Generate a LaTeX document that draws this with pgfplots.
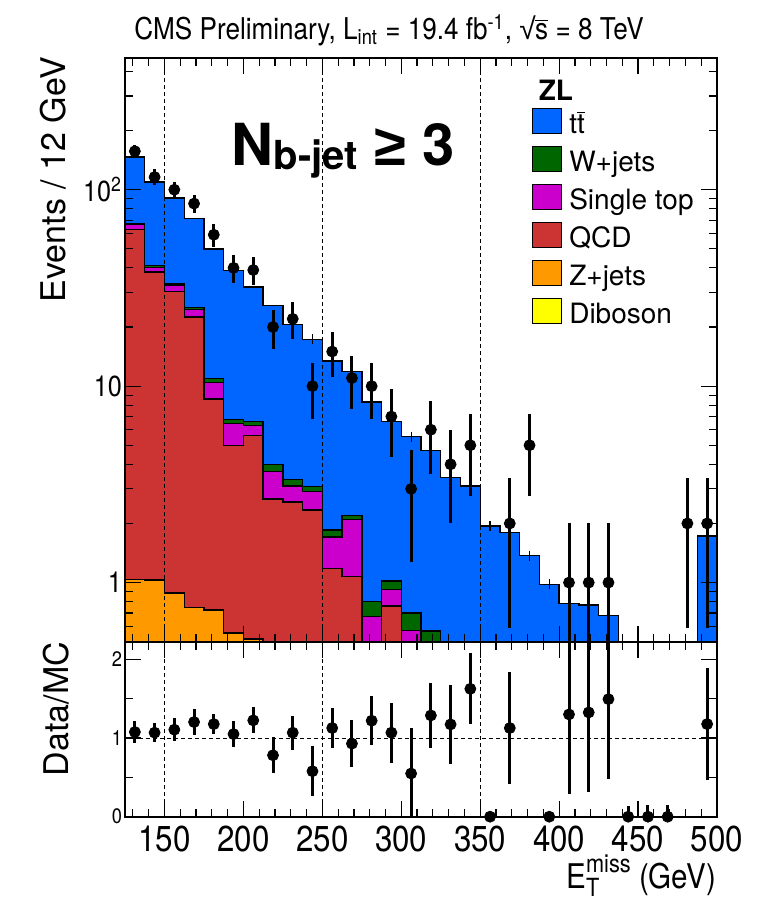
\documentclass[border=0pt]{standalone}
\usepackage{fontspec}
\setmainfont{TeX Gyre Heros}
\newfontfamily\narrow[FakeStretch=0.87]{TeX Gyre Heros}
\newfontfamily\libsans{Liberation Sans}
\usepackage{pgfplots}
\pgfplotsset{compat=1.18}
\definecolor{cTT}{RGB}{0,102,255}
\definecolor{cW}{RGB}{0,102,0}
\definecolor{cST}{RGB}{204,0,204}
\definecolor{cQCD}{RGB}{204,51,51}
\definecolor{cZ}{RGB}{255,153,0}
\definecolor{cDB}{RGB}{255,255,0}
\newcommand\xtickfont{\narrow\fontsize{18}{18}\selectfont}
\newcommand\ytickfont{\narrow\fontsize{14.5}{14.5}\selectfont}
\newcommand\rtickfont{\narrow\fontsize{10.5}{10.5}\selectfont}
\newcommand\legfont{\fontsize{14}{14}\selectfont}
\pgfplotsset{
  cmsaxis/.style={
    scale only axis, width=296pt, xmin=125, xmax=500,
    axis on top, tick align=inside,
    axis line style={line width=1pt},
    tick style={black, line width=0.6pt},
    major tick length=8pt, minor tick length=4pt,
    xtick={150,200,...,500}, minor xtick={130,140,...,490},
    /pgf/number format/assume math mode=true,
  },
  hist/.style={const plot mark left, draw=black, line width=0.7pt},
  refline/.style={forget plot, black, line width=0.5pt, dash pattern=on 2pt off 1.5pt},
}
\begin{document}
\begin{tikzpicture}
\path[use as bounding box] (0pt,0pt) rectangle (378pt,450pt);
% ---------------- main panel ----------------
\begin{axis}[cmsaxis,
  at={(62.5pt,129.15pt)}, anchor=south west, height=292pt,
  ymode=log, ymin=0.5, ymax=470,
  xticklabels={},
  ytick={1,10,100}, yticklabels={1,10,10\textsuperscript{2}},
  minor ytick={0.5,0.6,0.7,0.8,0.9,2,3,4,5,6,7,8,9,20,30,40,50,60,70,80,90,200,300,400},
  yticklabel style={font=\ytickfont, xshift=2pt},
  legend style={at={(0.687,0.9139)}, anchor=north west, draw=none, fill=none,
    inner sep=0pt, row sep=6pt, font=\legfont,
    nodes={inner sep=0pt, text height=12.5pt, text depth=0pt}},
  legend cell align=left,
  legend image code/.code={\draw[#1, line width=0.5pt] (0pt,-6.25pt) rectangle (14.5pt,6.25pt); \path (18pt,0pt);},
]
% ttbar (total)
\addplot[hist, fill=cTT] coordinates {
 (125,0.3) (125,146.6) (137.5,109.5) (150,90.7) (162.5,71.3) (175,50.0) (187.5,38.7)
 (200,32.0) (212.5,25.8) (225,20.6) (237.5,17.3) (250,13.4) (262.5,11.9) (275,8.3)
 (287.5,6.6) (300,5.54) (312.5,4.71) (325,3.43) (337.5,3.10) (350,1.94) (362.5,1.80)
 (375,1.37) (387.5,0.98) (400,0.78) (412.5,0.77) (425,0.68) (437.5,0.3) (450,0.3)
 (462.5,0.3) (475,0.3) (487.5,1.73) (500,1.73) (500,0.3)} -- cycle;
\addlegendentry{t$\overline{\mbox{t}}$}
% W+jets
\addplot[hist, fill=cW] coordinates {
 (125,0.3) (125,67.2) (137.5,41.1) (150,33.1) (162.5,25.1) (175,10.9) (187.5,6.77)
 (200,6.6) (212.5,4.0) (225,3.34) (237.5,3.08) (250,1.85) (262.5,2.2) (275,0.80)
 (287.5,1.02) (300,0.70) (312.5,0.566) (325,0.3) (500,0.3)} -- cycle;
\addlegendentry{W+jets}
% single top
\addplot[hist, fill=cST] coordinates {
 (125,0.3) (125,66.3) (137.5,40.1) (150,32.5) (162.5,24.5) (175,10.4) (187.5,6.44)
 (200,6.3) (212.5,3.67) (225,3.1) (237.5,2.9) (250,1.71) (262.5,2.1) (275,0.67)
 (287.5,0.925) (300,0.57) (312.5,0.3) (500,0.3)} -- cycle;
\addlegendentry{Single top}
% QCD
\addplot[hist, fill=cQCD] coordinates {
 (125,0.3) (125,62.7) (137.5,38.2) (150,30.3) (162.5,22.5) (175,8.6) (187.5,5.0)
 (200,5.6) (212.5,2.66) (225,2.57) (237.5,2.34) (250,1.18) (262.5,1.07) (275,0.3)
 (287.5,0.76) (300,0.3) (500,0.3)} -- cycle;
\addlegendentry{QCD}
% Z+jets
\addplot[hist, fill=cZ] coordinates {
 (125,0.3) (125,1.04) (137.5,1.03) (150,0.886) (162.5,0.746) (175,0.724) (187.5,0.553)
 (200,0.515) (212.5,0.3) (500,0.3)} -- cycle;
\addlegendentry{Z+jets}
% Diboson
\addplot[hist, fill=cDB] coordinates {
 (125,0.3) (125,0.32) (500,0.32) (500,0.3)} -- cycle;
\addlegendentry{Diboson}
% reference lines
\addplot[refline] coordinates {(150,0.5) (150,470)};
\addplot[refline] coordinates {(250,0.5) (250,470)};
\addplot[refline] coordinates {(350,0.5) (350,470)};
% MC stat uncertainty ticks (short vertical marks on the stack top)
\addplot[forget plot, only marks, mark=|, mark size=2.5pt, mark options={black, line width=0.6pt}] coordinates {
 (243.75,17.3) (256.25,13.4) (268.75,11.9) (281.25,8.3) (293.75,6.6) (306.25,5.54)
 (318.75,4.71) (331.25,3.43) (343.75,3.10) (356.25,1.94) (368.75,1.80) (381.25,1.37)
 (393.75,0.98) (406.25,0.78) (418.75,0.77) (431.25,0.68)};
% data
\addplot[forget plot, only marks, mark=*, mark size=2.75pt, black,
  error bars/.cd, y dir=both, y explicit, error mark=none,
  error bar style={draw=black, solid, line width=1.5pt}] coordinates {
 (131.25,157) +- (0,12.53) (143.75,116) +- (0,10.77) (156.25,100) +- (0,10)
 (168.75,85) +- (0,9.22) (181.25,59) +- (0,7.68) (193.75,40) +- (0,6.32)
 (206.25,39) +- (0,6.24) (218.75,20) +- (0,4.47) (231.25,22) +- (0,4.69)
 (243.75,10) +- (0,3.16) (256.25,15) +- (0,3.87) (268.75,11) +- (0,3.32)
 (281.25,10) +- (0,3.16) (293.75,7) +- (0,2.65) (306.25,3) +- (0,1.73)
 (318.75,6) +- (0,2.45) (331.25,4) +- (0,2) (343.75,5) +- (0,2.24)
 (368.75,2) +- (0,1.41) (381.25,5) +- (0,2.24)
 (406.25,1) += (0,1) -= (0,0.999) (418.75,1) += (0,1) -= (0,0.999)
 (431.25,1) += (0,1) -= (0,0.999)
 (481.25,2) +- (0,1.41) (493.75,2) +- (0,1.41)};
\node[anchor=west, font=\bfseries\fontsize{14}{14}\selectfont] at (rel axis cs:0.687,0.9447) {ZL};
\node[anchor=base west, inner sep=0pt] at (rel axis cs:0.18,0.816)
  {\bfseries\fontsize{29}{29}\selectfont N\raisebox{-2pt}{\fontsize{20}{20}\selectfont b-jet} {\libsans\bfseries ≥} 3};
\end{axis}
% ---------------- ratio panel ----------------
\begin{axis}[cmsaxis,
  at={(62.5pt,41.65pt)}, anchor=south west, height=87.5pt,
  ymin=0, ymax=2.224,
  xticklabels={150,200,250,300,350,400,450,500},
  xticklabel style={font=\xtickfont, yshift=-1pt},
  ytick={0,1,2}, yticklabels={0,1,2}, minor ytick={0.5,1.5},
  yticklabel style={font=\rtickfont, xshift=2pt},
]
\addplot[refline] coordinates {(150,0) (150,2.224)};
\addplot[refline] coordinates {(250,0) (250,2.224)};
\addplot[refline] coordinates {(350,0) (350,2.224)};
\addplot[refline] coordinates {(125,1) (500,1)};
\addplot[forget plot, only marks, mark=*, mark size=2.75pt, black,
  error bars/.cd, y dir=both, y explicit, error mark=none,
  error bar style={draw=black, solid, line width=1.5pt}] coordinates {
 (131.25,1.076) +- (0,0.14) (143.75,1.068) +- (0,0.12) (156.25,1.106) +- (0,0.15)
 (168.75,1.203) +- (0,0.165) (181.25,1.177) +- (0,0.13) (193.75,1.05) +- (0,0.165)
 (206.25,1.224) +- (0,0.165) (218.75,0.781) +- (0,0.23) (231.25,1.068) +- (0,0.215)
 (243.75,0.578) +- (0,0.32) (256.25,1.127) +- (0,0.26) (268.75,0.929) +- (0,0.30)
 (281.25,1.22) +- (0,0.315) (293.75,1.068) +- (0,0.38)
 (306.25,0.549) += (0,0.578) -= (0,0.549)
 (318.75,1.287) +- (0,0.414) (331.25,1.173) +- (0,0.5) (343.75,1.625) +- (0,0.45)
 (368.75,1.127) +- (0,0.715)
 (406.25,1.30) += (0,1.2) -= (0,1.013) (418.75,1.325) += (0,1.2) -= (0,1.015)
 (431.25,1.494) += (0,1.2) -= (0,1.014)
 (493.75,1.177) +- (0,0.715)
 (356.25,0) +- (0,0) (393.75,0) +- (0,0)
 (443.75,0) += (0,0.13) -= (0,0) (456.25,0) += (0,0.15) -= (0,0)
 (468.75,0) += (0,0.15) -= (0,0)};
\end{axis}
% ---------------- texts ----------------
\node[anchor=base west, inner sep=0pt, font=\narrow\fontsize{15}{15}\selectfont] at (67pt,430.15pt)
  {CMS Preliminary, L\textsubscript{int} = 19.4 fb\textsuperscript{-1}, {\libsans √}\kern-0.3pt$\overline{\mbox{s}}$ = 8 TeV};
\node[rotate=90, anchor=base east, inner sep=0pt, font=\fontsize{17}{17}\selectfont] at (32.5pt,421.6pt)
  {Events / 12 GeV};
\node[rotate=90, anchor=base east, inner sep=0pt, font=\fontsize{17}{17}\selectfont] at (34pt,129.15pt)
  {Data/MC};
\node[anchor=base east, inner sep=0pt, font=\narrow\fontsize{17}{17}\selectfont] at (358.35pt,5.5pt)
  {E\rlap{\raisebox{-4pt}{\fontsize{12.5}{12.5}\selectfont T}}\raisebox{8pt}{\fontsize{12.5}{12.5}\selectfont miss} (GeV)};
\end{tikzpicture}
\end{document}
